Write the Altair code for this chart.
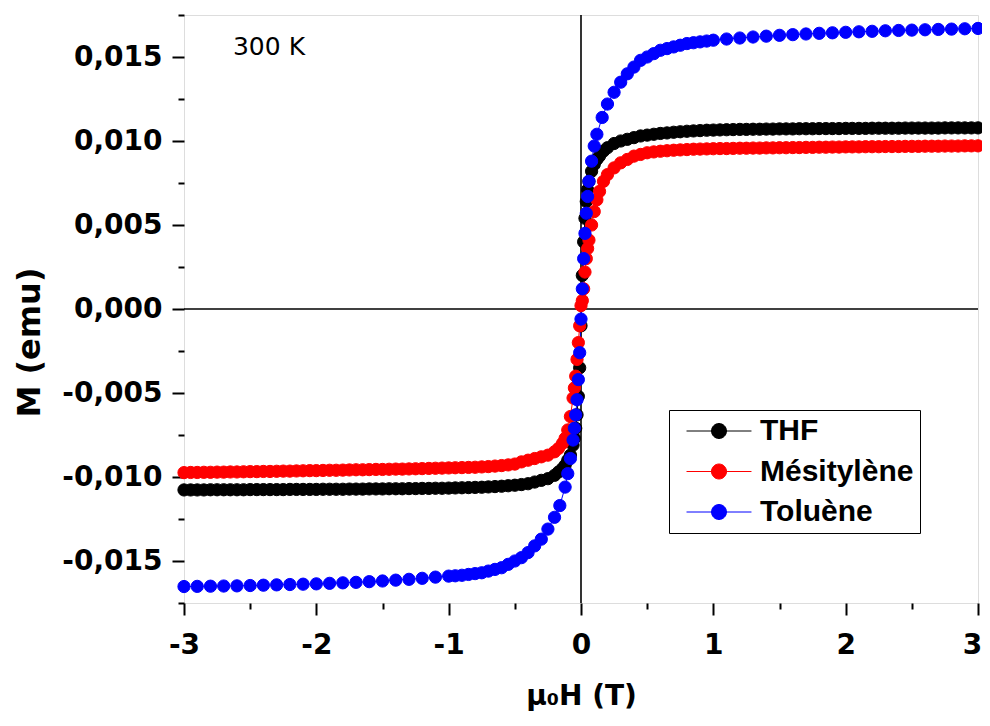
import altair as alt
import pandas as pd

SERIES = ["THF", "Mésitylène", "Toluène"]
COLORS = ["#000000", "#ff0000", "#0000ff"]

# field grid for THF and Mésitylène (T)
H_DENSE = [
    -3.00, -2.95, -2.90, -2.85, -2.80, -2.75, -2.70, -2.65, -2.60, -2.55,
    -2.50, -2.45, -2.40, -2.35, -2.30, -2.25, -2.20, -2.15, -2.10, -2.05,
    -2.00, -1.95, -1.90, -1.85, -1.80, -1.75, -1.70, -1.65, -1.60, -1.55,
    -1.50, -1.45, -1.40, -1.35, -1.30, -1.25, -1.20, -1.15, -1.10, -1.05,
    -1.00, -0.95, -0.90, -0.85, -0.80, -0.75, -0.70, -0.65, -0.60, -0.55,
    -0.50,
    -0.45, -0.40, -0.35, -0.30, -0.25, -0.20, -0.17, -0.14, -0.12, -0.10,
    -0.08, -0.06, -0.05, -0.04, -0.03, -0.02, -0.01, 0.00, 0.01, 0.02,
    0.03, 0.04, 0.05, 0.06, 0.08, 0.10, 0.12, 0.14, 0.17, 0.20,
    0.25, 0.30, 0.35, 0.40, 0.45,
    0.50, 0.55, 0.60, 0.65, 0.70, 0.75, 0.80, 0.85, 0.90, 0.95,
    1.00, 1.05, 1.10, 1.15, 1.20, 1.25, 1.30, 1.35, 1.40, 1.45,
    1.50, 1.55, 1.60, 1.65, 1.70, 1.75, 1.80, 1.85, 1.90, 1.95,
    2.00, 2.05, 2.10, 2.15, 2.20, 2.25, 2.30, 2.35, 2.40, 2.45,
    2.50, 2.55, 2.60, 2.65, 2.70, 2.75, 2.80, 2.85, 2.90, 2.95,
    3.00,
]

# THF magnetisation (emu)
M_THF = [
    -0.01077, -0.01077, -0.01077, -0.01077, -0.01076, -0.01076, -0.01076, -0.01076, -0.01076, -0.01076,
    -0.01075, -0.01075, -0.01075, -0.01075, -0.01075, -0.01075, -0.01074, -0.01074, -0.01074, -0.01074,
    -0.01074, -0.01073, -0.01073, -0.01073, -0.01073, -0.01072, -0.01072, -0.01072, -0.01071, -0.01071,
    -0.01071, -0.01070, -0.01070, -0.01070, -0.01069, -0.01069, -0.01068, -0.01068, -0.01067, -0.01067,
    -0.01066, -0.01065, -0.01064, -0.01063, -0.01062, -0.01061, -0.01059, -0.01057, -0.01055, -0.01052,
    -0.01049,
    -0.01045, -0.01040, -0.01030, -0.01020, -0.01010, -0.00990, -0.00970, -0.00950, -0.00930, -0.00900,
    -0.00870, -0.00810, -0.00770, -0.00710, -0.00630, -0.00520, -0.00350, -0.00100, 0.00200, 0.00400,
    0.00540, 0.00640, 0.00710, 0.00760, 0.00820, 0.00860, 0.00890, 0.00910, 0.00940, 0.00960,
    0.00985, 0.01000, 0.01010, 0.01020, 0.01030,
    0.01035, 0.01040, 0.01045, 0.01048, 0.01052, 0.01055, 0.01058, 0.01060, 0.01062, 0.01064,
    0.01065, 0.01066, 0.01067, 0.01068, 0.01069, 0.01069, 0.01070, 0.01070, 0.01071, 0.01071,
    0.01072, 0.01072, 0.01072, 0.01073, 0.01073, 0.01073, 0.01074, 0.01074, 0.01074, 0.01074,
    0.01075, 0.01075, 0.01075, 0.01075, 0.01076, 0.01076, 0.01076, 0.01076, 0.01076, 0.01077,
    0.01077, 0.01077, 0.01077, 0.01077, 0.01077, 0.01078, 0.01078, 0.01078, 0.01078, 0.01078,
    0.01078,
]

# Mésitylène magnetisation (emu)
M_MES = [
    -0.00974, -0.00973, -0.00973, -0.00972, -0.00972, -0.00971, -0.00971, -0.00970, -0.00970, -0.00969,
    -0.00968, -0.00968, -0.00967, -0.00967, -0.00966, -0.00965, -0.00965, -0.00964, -0.00963, -0.00962,
    -0.00962, -0.00961, -0.00960, -0.00960, -0.00959, -0.00958, -0.00957, -0.00957, -0.00956, -0.00955,
    -0.00955, -0.00954, -0.00953, -0.00953, -0.00952, -0.00951, -0.00950, -0.00949, -0.00948, -0.00947,
    -0.00946, -0.00945, -0.00944, -0.00943, -0.00942, -0.00940, -0.00938, -0.00935, -0.00932, -0.00928,
    -0.00923,
    -0.00910, -0.00900, -0.00890, -0.00880, -0.00870, -0.00850, -0.00830, -0.00800, -0.00770, -0.00720,
    -0.00640, -0.00530, -0.00470, -0.00400, -0.00300, -0.00200, -0.00100, 0.00020, 0.00050, 0.00120,
    0.00220, 0.00300, 0.00360, 0.00410, 0.00500, 0.00580, 0.00650, 0.00700, 0.00760, 0.00800,
    0.00840, 0.00870, 0.00890, 0.00910, 0.00920,
    0.00930, 0.00935, 0.00939, 0.00942, 0.00945, 0.00947, 0.00949, 0.00951, 0.00952, 0.00953,
    0.00954, 0.00955, 0.00955, 0.00956, 0.00957, 0.00957, 0.00958, 0.00958, 0.00959, 0.00959,
    0.00960, 0.00960, 0.00961, 0.00961, 0.00962, 0.00962, 0.00963, 0.00963, 0.00964, 0.00964,
    0.00965, 0.00965, 0.00965, 0.00966, 0.00966, 0.00966, 0.00967, 0.00967, 0.00967, 0.00968,
    0.00968, 0.00968, 0.00969, 0.00969, 0.00969, 0.00970, 0.00970, 0.00970, 0.00971, 0.00971,
    0.00971,
]

# field grid for Toluène (T)
H_TOL = [
    -3.0, -2.9, -2.8, -2.7, -2.6, -2.5, -2.4, -2.3, -2.2, -2.1,
    -2.0, -1.9, -1.8, -1.7, -1.6, -1.5, -1.4, -1.3, -1.2, -1.1,
    -1.0,
    -0.95, -0.90, -0.85, -0.80, -0.75, -0.70, -0.65, -0.60, -0.55, -0.50,
    -0.45, -0.40, -0.35, -0.30,
    -0.25, -0.20, -0.16, -0.12, -0.10, -0.08, -0.06, -0.05, -0.04, -0.03,
    -0.02, -0.01, 0.00, 0.01, 0.02, 0.03, 0.04, 0.05, 0.06, 0.08,
    0.10, 0.12, 0.16, 0.20, 0.25,
    0.30, 0.35, 0.40, 0.45, 0.50, 0.55, 0.60, 0.65, 0.70, 0.75,
    0.80, 0.85, 0.90, 0.95,
    1.0, 1.1, 1.2, 1.3, 1.4, 1.5, 1.6, 1.7, 1.8, 1.9,
    2.0, 2.1, 2.2, 2.3, 2.4, 2.5, 2.6, 2.7, 2.8, 2.9,
    3.0,
]

# Toluène magnetisation (emu)
M_TOL = [
    -0.01652, -0.01651, -0.01650, -0.01649, -0.01648, -0.01646, -0.01644, -0.01642, -0.01640, -0.01638,
    -0.01636, -0.01633, -0.01630, -0.01627, -0.01623, -0.01619, -0.01614, -0.01609, -0.01603, -0.01596,
    -0.01590,
    -0.01588, -0.01585, -0.01580, -0.01575, -0.01570, -0.01560, -0.01550, -0.01540, -0.01520, -0.01500,
    -0.01480, -0.01450, -0.01410, -0.01370,
    -0.01310, -0.01240, -0.01170, -0.01060, -0.00980, -0.00890, -0.00780, -0.00710, -0.00630, -0.00540,
    -0.00420, -0.00260, -0.00060, 0.00120, 0.00300, 0.00450, 0.00570, 0.00670, 0.00760, 0.00880,
    0.00970, 0.01040, 0.01140, 0.01220, 0.01290,
    0.01350, 0.01400, 0.01440, 0.01480, 0.01500, 0.01520, 0.01540, 0.01550, 0.01560, 0.01570,
    0.01580, 0.01585, 0.01590, 0.01595,
    0.01600, 0.01607, 0.01613, 0.01619, 0.01624, 0.01629, 0.01633, 0.01637, 0.01641, 0.01644,
    0.01647, 0.01650, 0.01653, 0.01656, 0.01658, 0.01660, 0.01662, 0.01664, 0.01666, 0.01668,
    0.01670,
]

X_TICKS = [-3, -2.5, -2, -1.5, -1, -0.5, 0, 0.5, 1, 1.5, 2, 2.5, 3]
Y_TICKS = [-0.0175, -0.015, -0.0125, -0.01, -0.0075, -0.005, -0.0025, 0,
           0.0025, 0.005, 0.0075, 0.01, 0.0125, 0.015, 0.0175]

ANNOT_TEXT = ["300 K"]
ANNOT_H = [-2.63]
ANNOT_M = [0.01514]

rows = []
for name, hs, ms in [("THF", H_DENSE, M_THF), ("Mésitylène", H_DENSE, M_MES), ("Toluène", H_TOL, M_TOL)]:
    assert len(hs) == len(ms), name
    for i, (h, m) in enumerate(zip(hs, ms)):
        rows.append({"H": h, "M": m, "serie": name, "i": i})
df = pd.DataFrame(rows)

xs = alt.Scale(domain=[-3, 3], nice=False, zero=False)
ys = alt.Scale(domain=[-0.0175, 0.0175], nice=False, zero=False)
cs = alt.Scale(domain=SERIES, range=COLORS)

major_x = "abs(datum.value - round(datum.value)) < 0.01"
major_y = "abs(datum.value*200 - round(datum.value*200)) < 0.01"

common_axis = dict(
    grid=False, domain=False, tickColor="black", tickWidth=2,
    labelFont="DejaVu Sans", labelFontWeight="bold", labelFontSize=28, labelColor="black",
    titleFont="DejaVu Sans", titleFontWeight="bold", titleColor="black",
    labelOverlap=False, labelFlush=False,
)

x_axis = alt.Axis(
    values=X_TICKS, title="μ₀H (T)",
    labelExpr=f"{major_x} ? (datum.value < -0.001 ? '-' : '') + format(abs(datum.value), 'd') : ''",
    tickSize={"condition": {"test": major_x, "value": 12}, "value": 6},
    labelOffset={"condition": {"test": "datum.value > 2.9", "value": -6}, "value": 0},
    labelPadding=16, titleFontSize=28, titleY=101, titleBaseline="alphabetic",
    **common_axis,
)
y_axis = alt.Axis(
    values=Y_TICKS, title="M (emu)",
    labelExpr=f"{major_y} ? (datum.value < -0.00001 ? '-' : '') + replace(format(abs(datum.value), '.3f'), '.', ',') : ''",
    tickSize={"condition": {"test": major_y, "value": 12}, "value": 6},
    labelPadding=10, titleFontSize=32, titleX=-145, titleY=327, titleAngle=270,
    titleBaseline="alphabetic", titleAlign="center",
    **common_axis,
)

SYMBOL = "M-4.33,0H4.33M1,0A1,1,0,1,1,-1,0A1,1,0,1,1,1,0Z"
leg = alt.Legend(
    title=None, orient="none", legendX=485, legendY=395,
    symbolType=SYMBOL, symbolSize=225, symbolStrokeWidth=1, symbolOpacity=1,
    symbolOffset=29, labelOffset=26,
    labelFont="Liberation Sans", labelFontSize=30, labelFontWeight="bold", labelColor="black",
    labelLimit=400, rowPadding=10.5, padding=6, strokeColor="black", fillColor="white",
)

X = alt.X("H:Q", scale=xs, axis=x_axis)
Y = alt.Y("M:Q", scale=ys, axis=y_axis)

zero_v = alt.Chart(pd.DataFrame({"H": [0.0]})).mark_rule(color="black", strokeWidth=1.6).encode(x=X)
zero_h = alt.Chart(pd.DataFrame({"M": [0.0]})).mark_rule(color="black", strokeWidth=1.6).encode(y=Y)

lines = alt.Chart(df).mark_line(strokeWidth=1).encode(
    x=X, y=Y,
    stroke=alt.Stroke("serie:N", scale=cs, legend=leg),
    order="i:Q",
)
points = alt.Chart(df).mark_point(filled=True, size=150, opacity=1, strokeWidth=1).encode(
    x=X, y=Y,
    fill=alt.Fill("serie:N", scale=cs, legend=leg),
    stroke=alt.Stroke("serie:N", scale=cs, legend=leg),
)

annot = alt.Chart(pd.DataFrame({"H": ANNOT_H, "M": ANNOT_M, "t": ANNOT_TEXT})).mark_text(
    align="left", baseline="alphabetic", font="DejaVu Sans", fontSize=25, color="black"
).encode(x=X, y=Y, text="t:N")

chart = alt.layer(zero_v, zero_h, lines, points, annot).properties(
    width=794, height=588,
    autosize=alt.AutoSizeParams(type="none"),
    padding={"left": 176, "top": 7, "right": 4, "bottom": 110},
).configure_view(stroke="black", strokeWidth=2).configure(background="white")

chart.save("out.html", embed_options={"renderer": "svg", "actions": False})
